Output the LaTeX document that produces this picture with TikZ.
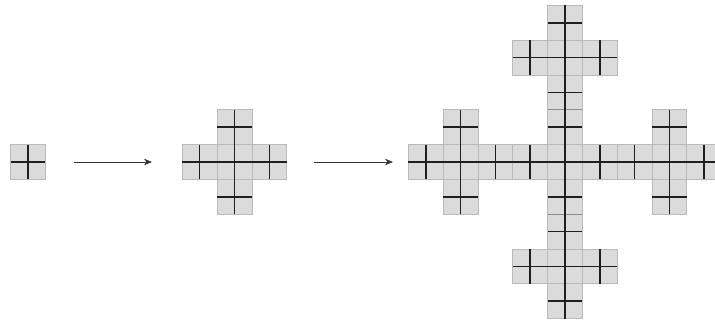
\documentclass[tikz,border=0pt]{standalone}
\usetikzlibrary{arrows.meta}
\tikzset{
  cell/.style={fill=black!14, draw=black!27, line width=0.7pt},
  axis/.style={draw=black!88, line width=1.5pt},
  seam/.style={draw=black!45, line width=1.2pt},
  flow/.style={draw=black!80, line width=0.6pt, -{Stealth[length=8pt,width=6.5pt]}}
}
\def\s{17.4}
% 2x2 block of cells centred on (#1,#2)
\newcommand\mkblock[2]{%
  \foreach \dx in {-1,0}{\foreach \dy in {-1,0}{%
    \path[cell] ({(#1)+(\dx)*\s},{(#2)+(\dy)*\s}) rectangle ++(\s,\s);}}}
% dark cross lines of one block
\newcommand\mkcrossblock[2]{%
  \draw[axis] ({(#1)-\s},{#2}) -- ({(#1)+\s},{#2});
  \draw[axis] ({#1},{(#2)-\s}) -- ({#1},{(#2)+\s});}
% cross of five blocks centred on (#1,#2)
\newcommand\mkcross[2]{%
  \mkblock{#1}{#2}%
  \mkblock{(#1)-2*\s}{#2}\mkblock{(#1)+2*\s}{#2}%
  \mkblock{#1}{(#2)-2*\s}\mkblock{#1}{(#2)+2*\s}}
\newcommand\mkcrosslines[2]{%
  \draw[axis] ({(#1)-3*\s},{#2}) -- ({(#1)+3*\s},{#2});
  \draw[axis] ({#1},{(#2)-3*\s}) -- ({#1},{(#2)+3*\s});
  \draw[axis] ({(#1)-2*\s},{(#2)-\s}) -- ({(#1)-2*\s},{(#2)+\s});
  \draw[axis] ({(#1)+2*\s},{(#2)-\s}) -- ({(#1)+2*\s},{(#2)+\s});
  \draw[axis] ({(#1)-\s},{(#2)-2*\s}) -- ({(#1)+\s},{(#2)-2*\s});
  \draw[axis] ({(#1)-\s},{(#2)+2*\s}) -- ({(#1)+\s},{(#2)+2*\s});}
\begin{document}
\begin{tikzpicture}[x=1pt,y=-1pt]
\useasboundingbox (0,0) rectangle (715,320);
% stage 1
\mkblock{28}{162}
\mkcrossblock{28}{162}
% stage 2
\mkcross{234.5}{162}
\mkcrosslines{234.5}{162}
% stage 3
\def\cx{565}\def\cy{162}
\mkcross{\cx}{\cy}
\mkcross{\cx-6*\s}{\cy}
\mkcross{\cx+6*\s}{\cy}
\mkcross{\cx}{\cy-6*\s}
\mkcross{\cx}{\cy+6*\s}
\draw[seam] ({\cx-\s},{\cy-3*\s}) -- ({\cx+\s},{\cy-3*\s});
\draw[seam] ({\cx-\s},{\cy+3*\s}) -- ({\cx+\s},{\cy+3*\s});
\mkcrosslines{\cx}{\cy}
\mkcrosslines{\cx-6*\s}{\cy}
\mkcrosslines{\cx+6*\s}{\cy}
\mkcrosslines{\cx}{\cy-6*\s}
\mkcrosslines{\cx}{\cy+6*\s}
% arrows
\coordinate (a1s) at (74,162);
\coordinate (a1e) at (152,162);
\coordinate (a2s) at (314,162);
\coordinate (a2e) at (393,162);
\draw[flow] (a1s) -- (a1e);
\draw[flow] (a2s) -- (a2e);
\end{tikzpicture}
\end{document}
